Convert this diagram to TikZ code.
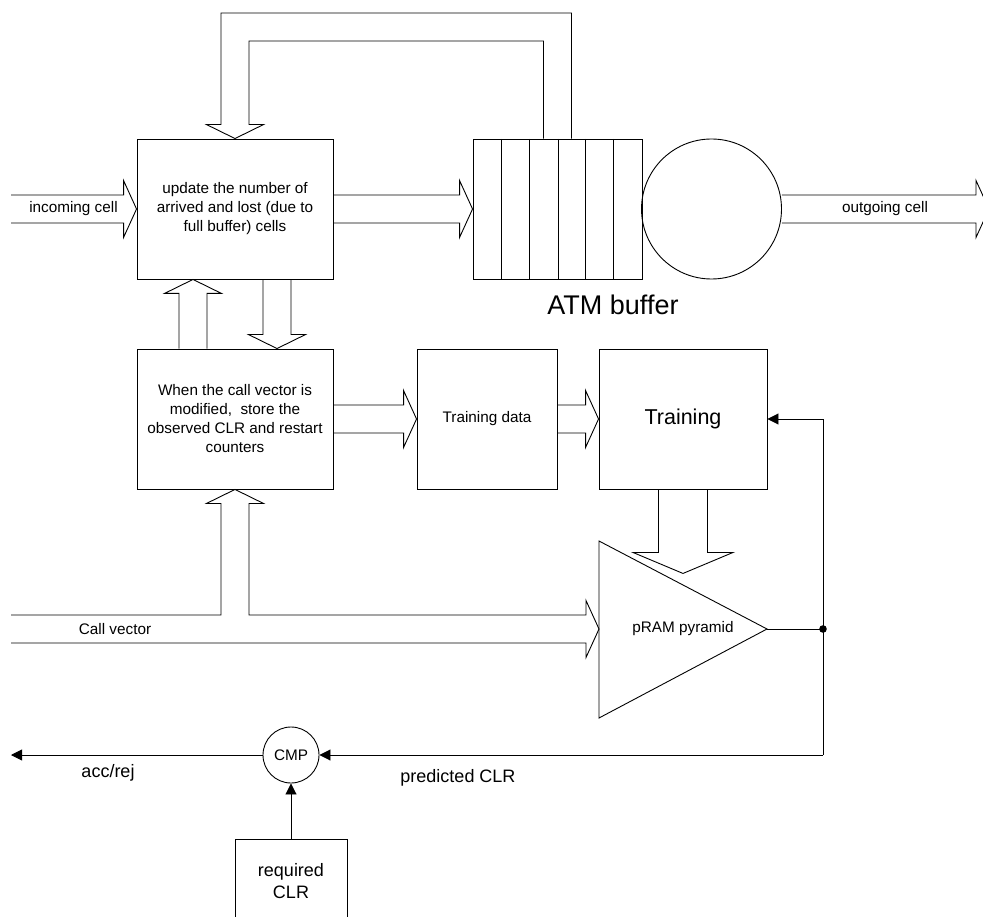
\documentclass[tikz,border=0pt]{standalone}
\usepackage{fontspec}
\setmainfont{Liberation Sans}
\usetikzlibrary{calc,arrows.meta}
\newcommand\fsmain{\fontsize{15.3}{19}\selectfont}
\newcommand\fsmid{\fontsize{18}{22}\selectfont}
\newcommand\harrowR[2]{\draw[ln] let \p1=(#1),\p2=(#2) in
  (\x1,\y2+14pt) -- (\x2-13pt,\y2+14pt) -- (\x2-13pt,\y2+28.5pt) -- (\x2,\y2)
  -- (\x2-13pt,\y2-28.5pt) -- (\x2-13pt,\y2-14pt) -- (\x1,\y2-14pt);}
\newcommand\varrowU[2]{\draw[ln] let \p1=(#1),\p2=(#2) in
  (\x2-14pt,\y1) -- (\x2-14pt,\y2-14pt) -- (\x2-28.5pt,\y2-14pt) -- (\x2,\y2)
  -- (\x2+28.5pt,\y2-14pt) -- (\x2+14pt,\y2-14pt) -- (\x2+14pt,\y1);}
\newcommand\varrowD[2]{\draw[ln] let \p1=(#1),\p2=(#2) in
  (\x2-14pt,\y1) -- (\x2-14pt,\y2+14pt) -- (\x2-28.5pt,\y2+14pt) -- (\x2,\y2)
  -- (\x2+28.5pt,\y2+14pt) -- (\x2+14pt,\y2+14pt) -- (\x2+14pt,\y1);}
\begin{document}
\begin{tikzpicture}[x=1pt,y=-1pt,
  ln/.style={draw=black,line width=0.9pt,line join=miter},
  blk/.style={ln,rectangle,inner sep=0pt,align=center,font=\fsmain},
  lbl/.style={inner sep=0pt,align=center,font=\fsmain},
  thin arrow/.style={ln,-{Triangle[length=11pt,width=11pt]}}]
\useasboundingbox (0,0) rectangle (983,917);
\clip (0,0) rectangle (983,917);

% boxes
\node[blk,minimum width=196,minimum height=140] (b1) at (235,209)
  {update the number of\\arrived and lost (due to\\full buffer) cells};
\node[blk,minimum width=196,minimum height=140] (b2) at (235,419)
  {When the call vector is\\modified,~ store the\\observed CLR and restart\\counters};
\node[blk,minimum width=140,minimum height=140] (b3) at (487,419) {Training data};
\node[blk,minimum width=168,minimum height=140,font=\fontsize{21.5}{26}\selectfont] (tr) at (683,419) {Training};

% ATM buffer
\node[ln,rectangle,minimum width=169,minimum height=140,inner sep=0pt] (buf) at (557.5,209) {};
\foreach \xx in {501,529,558,585,613} \draw[ln] (\xx,139) -- (\xx,279);
\node[ln,circle,minimum size=140,inner sep=0pt] (srv) at (711.5,209) {};
\node[lbl,font=\fontsize{27}{32}\selectfont] (atm) at (613,305) {ATM buffer};

% pyramid
\coordinate (pin) at (599,629);
\coordinate (ptip) at (767,629);
\draw[ln] (599,541) -- (ptip) -- (599,718) -- cycle;
\node[lbl] (pram) at (683,629) {pRAM pyramid};

% compare
\node[ln,circle,minimum size=56,inner sep=0pt,font=\fsmain] (cmp) at (291,755) {CMP};
\coordinate (reqtop) at (291,839);
\draw[ln] (235,925) -- (235,839) -- (347,839) -- (347,925);
\node[lbl,font=\fsmid] (req) at (291,881) {required\\CLR};

% coordinates
\coordinate (inl) at (11,209);
\coordinate (outr) at (989,209);
\coordinate (cvl) at (11,629);
\coordinate (fbo) at (0,13);
\coordinate (fbi) at (0,41);
\coordinate (dot) at (823,629);
\coordinate (vtop) at (823,419);
\coordinate (vbot) at (823,755);
\coordinate (accl) at (11,755);

% block arrows
\harrowR{inl}{b1.west}
\harrowR{b1.east}{buf.west}
\harrowR{srv.east}{outr}
\harrowR{b2.east}{b3.west}
\harrowR{b3.east}{tr.west}
\varrowU{$(b2.north)+(-42,0)$}{$(b1.south)+(-42,0)$}
\varrowD{$(b1.south)+(42,0)$}{$(b2.north)+(42,0)$}

% feedback from buffer to box 1
\draw[ln] let \p1=(buf.north),\p2=(b1.north),\p3=(fbo),\p4=(fbi) in
  (\x1+14pt,\y1) -- (\x1+14pt,\y3) -- (\x2-14pt,\y3) -- (\x2-14pt,\y2+14pt)
  -- (\x2-28.5pt,\y2+14pt) -- (\x2,\y2) -- (\x2+28.5pt,\y2+14pt) -- (\x2+14pt,\y2+14pt)
  -- (\x2+14pt,\y4) -- (\x1-14pt,\y4) -- (\x1-14pt,\y1);

% call vector
\draw[ln] let \p1=(cvl),\p2=(pin),\p3=(b2.south) in
  (\x1,\y2+14pt) -- (\x3-14pt,\y2+14pt) -- (\x3-14pt,\y3-14pt) -- (\x3-28.5pt,\y3-14pt)
  -- (\x3,\y3) -- (\x3+28.5pt,\y3-14pt) -- (\x3+14pt,\y3-14pt) -- (\x3+14pt,\y2+14pt)
  -- (\x2-13pt,\y2+14pt) -- (\x2-13pt,\y2+28.5pt) -- (\x2,\y2) -- (\x2-13pt,\y2-28.5pt)
  -- (\x2-13pt,\y2-14pt) -- (\x1,\y2-14pt);

% training -> pyramid
\draw[ln] let \p1=(tr.south) in
  (\x1-24.5pt,\y1) -- (\x1-24.5pt,\y1-63pt) -- (\x1-50pt,\y1-63pt) -- (\x1,\y1-84pt)
  -- (\x1+50pt,\y1-63pt) -- (\x1+24.5pt,\y1-63pt) -- (\x1+24.5pt,\y1);

% output of pyramid
\draw[ln] (ptip) -- (dot);
\fill (dot) circle (3.8);
\draw[ln] (vtop) -- (vbot);
\draw[thin arrow] (vtop) -- (tr.east);
\draw[thin arrow] (vbot) -- (cmp.east);
\draw[thin arrow] (cmp.west) -- (accl);
\draw[thin arrow] (reqtop) -- (cmp.south);

% labels
\node[lbl] (lin) at (73.5,209) {incoming cell};
\node[lbl] (lout) at (885,209) {outgoing cell};
\node[lbl] (lcv) at (115,629) {Call vector};
\node[lbl,font=\fsmid] (lacc) at (108,773) {acc/rej};
\node[lbl,font=\fsmid] (lpred) at (458,778) {predicted CLR};
\end{tikzpicture}
\end{document}
